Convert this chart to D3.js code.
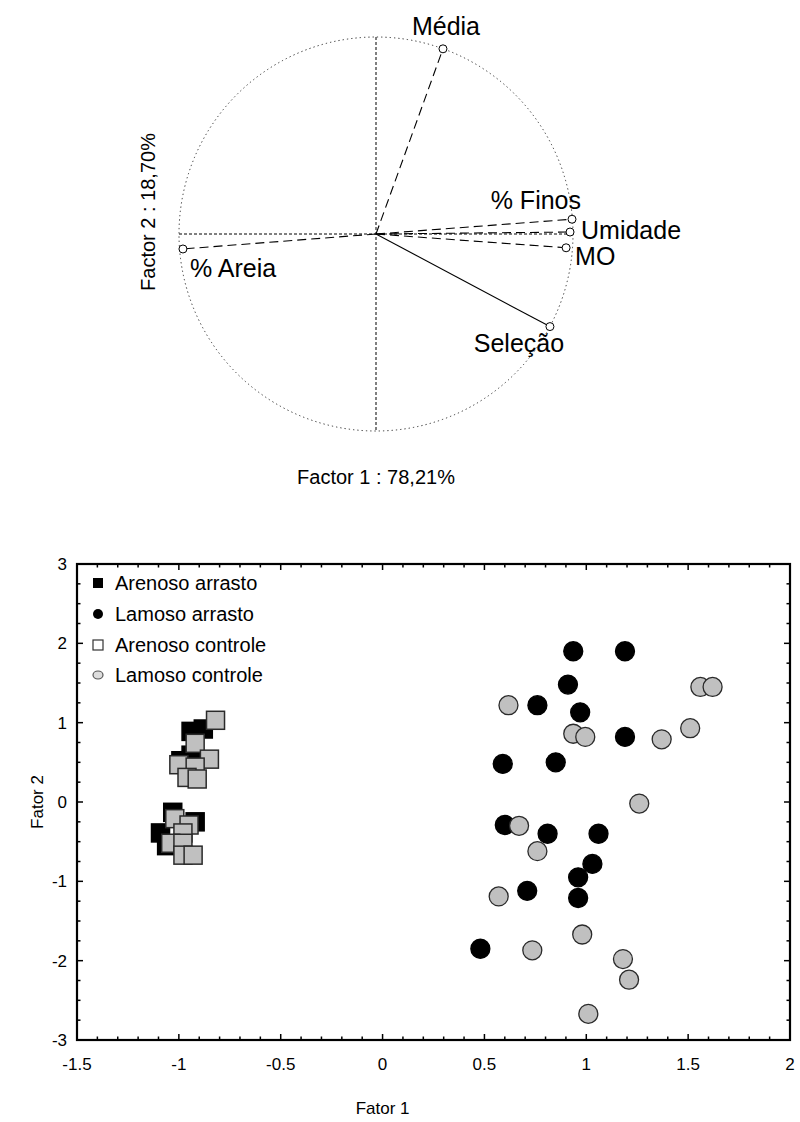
<!DOCTYPE html>
<html><head><meta charset="utf-8">
<script src="https://cdn.jsdelivr.net/npm/d3@7"></script>
<style>body{margin:0;background:#fff}svg{display:block;font-family:Arial,"Liberation Sans",sans-serif}</style>
</head><body><svg id="c" width="800" height="1122"></svg>
<script>
// ---------- DATA: PCA loadings (top) ----------
const variables = ["Média", "% Finos", "Umidade", "MO", "Seleção", "% Areia"];
const factor1Loadings = [0.34, 0.995, 0.985, 0.965, 0.883, -0.98];
const factor2Loadings = [0.94, 0.075, 0.01, -0.07, -0.47, -0.076];
const factor1Title = "Factor 1 : 78,21%";
const factor2Title = "Factor 2 : 18,70%";

// ---------- DATA: scores (bottom) ----------
const groups = ["Arenoso arrasto", "Lamoso arrasto", "Arenoso controle", "Lamoso controle"];
const arenosoArrastoX = [-0.94, -0.88, -0.94, -0.99, -1.03, -0.92, -1.09, -1.06];
const arenosoArrastoY = [0.89, 0.92, 0.59, 0.52, -0.13, -0.25, -0.39, -0.55];
const lamosoArrastoX = [0.936, 1.19, 0.91, 0.76, 0.97, 1.19, 0.59, 0.85, 0.60, 0.81, 1.06, 1.03, 0.96, 0.71, 0.96, 0.48];
const lamosoArrastoY = [1.90, 1.90, 1.48, 1.22, 1.13, 0.82, 0.48, 0.50, -0.29, -0.40, -0.40, -0.78, -0.95, -1.12, -1.21, -1.85];
const arenosoControleX = [-0.82, -0.92, -0.85, -1.00, -0.92, -0.96, -0.91, -1.02, -0.95, -0.98, -1.04, -0.98, -0.98, -0.93];
const arenosoControleY = [1.03, 0.74, 0.54, 0.47, 0.44, 0.31, 0.29, -0.21, -0.29, -0.39, -0.52, -0.52, -0.67, -0.67];
const lamosoControleX = [0.618, 0.936, 0.995, 1.37, 1.51, 1.56, 1.62, 1.26, 0.67, 0.76, 0.57, 0.98, 0.735, 1.18, 1.21, 1.01];
const lamosoControleY = [1.22, 0.86, 0.82, 0.79, 0.93, 1.45, 1.45, -0.02, -0.30, -0.62, -1.19, -1.67, -1.87, -1.98, -2.24, -2.67];
const xTicks = [-1.5, -1, -0.5, 0, 0.5, 1, 1.5, 2];
const yTicks = [-3, -2, -1, 0, 1, 2, 3];
const xTitle = "Fator 1";
const yTitle = "Fator 2";

// ---------- STYLE ----------
const labelStyle = {
  "Média":   {anchor: "middle", dx: 3,  dy: -14, dash: "9,5"},
  "% Finos": {anchor: "end",    dx: 9,  dy: -10, dash: "9,5"},
  "Umidade": {anchor: "start",  dx: 11, dy: 7,   dash: "9,5"},
  "MO":      {anchor: "start",  dx: 9,  dy: 17,  dash: "9,5"},
  "Seleção": {anchor: "middle", dx: -31, dy: 25, dash: null},
  "% Areia": {anchor: "start",  dx: 7,  dy: 28,  dash: "9,5"}
};

const svg = d3.select("#c");

// ================= TOP: correlation circle =================
const cx = d3.scaleLinear().domain([-1, 1]).range([179, 573]);
const cy = d3.scaleLinear().domain([-1, 1]).range([431, 37]);
const topG = svg.append("g");
topG.append("circle").attr("cx", cx(0)).attr("cy", cy(0)).attr("r", cx(1) - cx(0))
  .attr("fill", "none").attr("stroke", "#333").attr("stroke-width", 1).attr("stroke-dasharray", "1.3,3");
topG.append("line").attr("x1", cx(0)).attr("x2", cx(0)).attr("y1", cy(1)).attr("y2", cy(-1))
  .attr("stroke", "#000").attr("stroke-width", 1).attr("stroke-dasharray", "3,2");
topG.append("line").attr("x1", cx(-1)).attr("x2", cx(1)).attr("y1", cy(0)).attr("y2", cy(0))
  .attr("stroke", "#000").attr("stroke-width", 1).attr("stroke-dasharray", "3,2");

variables.forEach((v, i) => {
  const st = labelStyle[v];
  const px = cx(factor1Loadings[i]), py = cy(factor2Loadings[i]);
  const ln = topG.append("line").attr("x1", cx(0)).attr("y1", cy(0)).attr("x2", px).attr("y2", py)
    .attr("stroke", "#000").attr("stroke-width", 1.1);
  if (st.dash) ln.attr("stroke-dasharray", st.dash);
  topG.append("circle").attr("cx", px).attr("cy", py).attr("r", 4)
    .attr("fill", "#fff").attr("stroke", "#000").attr("stroke-width", 1);
  topG.append("text").attr("x", px + st.dx).attr("y", py + st.dy).attr("text-anchor", st.anchor)
    .attr("font-size", 25).attr("fill", "#000").text(v);
});
topG.append("text").attr("x", cx(0)).attr("y", 484).attr("text-anchor", "middle")
  .attr("font-size", 20).text(factor1Title);
topG.append("text").attr("transform", `translate(155,212) rotate(-90)`).attr("text-anchor", "middle")
  .attr("font-size", 20).text(factor2Title);

// ================= BOTTOM: scores =================
const x = d3.scaleLinear().domain([-1.5, 2]).range([77, 790]);
const y = d3.scaleLinear().domain([-3, 3]).range([1040, 564]);
const bot = svg.append("g");

const xMinor = d3.range(-15, 21).map(d => d / 10);
const yMinor = d3.range(-12, 13).map(d => d / 4);
const tickG = bot.append("g").attr("stroke", "#000").attr("stroke-width", 1.5);
xMinor.forEach(t => {
  const major = xTicks.some(m => Math.abs(m - t) < 1e-9);
  const L = major ? 6 : 3.5;
  tickG.append("line").attr("x1", x(t)).attr("x2", x(t)).attr("y1", y(-3)).attr("y2", y(-3) - L);
  tickG.append("line").attr("x1", x(t)).attr("x2", x(t)).attr("y1", y(3)).attr("y2", y(3) + L);
});
yMinor.forEach(t => {
  const major = yTicks.some(m => Math.abs(m - t) < 1e-9);
  const L = major ? 6 : 3.5;
  tickG.append("line").attr("x1", x(-1.5)).attr("x2", x(-1.5) + L).attr("y1", y(t)).attr("y2", y(t));
  tickG.append("line").attr("x1", x(2)).attr("x2", x(2) - L).attr("y1", y(t)).attr("y2", y(t));
});
bot.append("rect").attr("x", x(-1.5)).attr("y", y(3)).attr("width", x(2) - x(-1.5)).attr("height", y(-3) - y(3))
  .attr("fill", "none").attr("stroke", "#000").attr("stroke-width", 2.2);

bot.selectAll(".xl").data(xTicks).join("text").attr("x", d => x(d)).attr("y", 1070)
  .attr("text-anchor", "middle").attr("font-size", 17).text(d => d);
bot.selectAll(".yl").data(yTicks).join("text").attr("x", 67).attr("y", d => y(d) + 6)
  .attr("text-anchor", "end").attr("font-size", 17).text(d => d);
bot.append("text").attr("x", x(0)).attr("y", 1114).attr("text-anchor", "middle").attr("font-size", 17).text(xTitle);
bot.append("text").attr("transform", `translate(43,${y(0)}) rotate(-90)`).attr("text-anchor", "middle")
  .attr("font-size", 17).text(yTitle);

const S = 18, R = 9.5;
function squares(xs, ys, fill, stroke) {
  bot.append("g").selectAll("rect").data(xs).join("rect")
    .attr("x", (d, i) => x(d) - S / 2).attr("y", (d, i) => y(ys[i]) - S / 2)
    .attr("width", S).attr("height", S).attr("fill", fill).attr("stroke", stroke).attr("stroke-width", 1.5);
}
function circles(xs, ys, fill, stroke) {
  bot.append("g").selectAll("circle").data(xs).join("circle")
    .attr("cx", d => x(d)).attr("cy", (d, i) => y(ys[i])).attr("r", R)
    .attr("fill", fill).attr("stroke", stroke).attr("stroke-width", 1.3);
}
squares(arenosoArrastoX, arenosoArrastoY, "#000", "#000");
circles(lamosoArrastoX, lamosoArrastoY, "#000", "#000");
squares(arenosoControleX, arenosoControleY, "#c0c0c0", "#2a2a2a");
circles(lamosoControleX, lamosoControleY, "#c0c0c0", "#2a2a2a");

// legend
const legY = [583, 614, 645, 675];
const leg = bot.append("g");
groups.forEach((g, i) => {
  const yy = legY[i];
  if (i === 0) leg.append("rect").attr("x", 93).attr("y", yy - 5).attr("width", 10).attr("height", 10).attr("fill", "#000");
  if (i === 1) leg.append("circle").attr("cx", 98).attr("cy", yy).attr("r", 5).attr("fill", "#000");
  if (i === 2) leg.append("rect").attr("x", 93).attr("y", yy - 5).attr("width", 10).attr("height", 10).attr("fill", "#fff").attr("stroke", "#333").attr("stroke-width", 1.2);
  if (i === 3) leg.append("ellipse").attr("cx", 98).attr("cy", yy).attr("rx", 5).attr("ry", 4).attr("fill", "#ddd").attr("stroke", "#555").attr("stroke-width", 1.2);
  leg.append("text").attr("x", 115).attr("y", yy + 7).attr("font-size", 20).text(g);
});
</script></body></html>
